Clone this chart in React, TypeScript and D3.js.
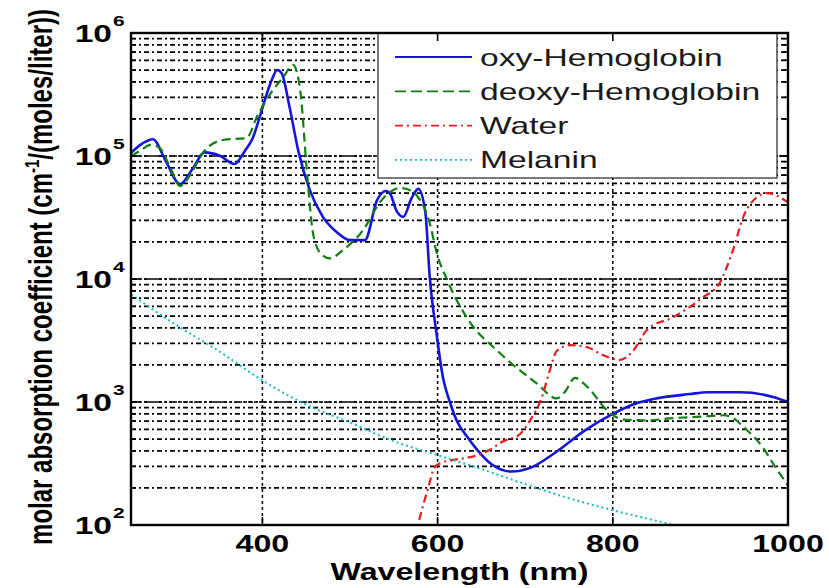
import React from 'react';
import { scaleLinear, scaleLog, line, curveMonotoneX } from 'd3';

// wavelengths (nm) and molar absorption values
const oxyWl = [250, 262, 275, 290, 306, 320, 334, 352, 368, 380, 389, 398, 405, 411, 417, 422, 431, 441, 454, 469, 485, 500, 517, 531, 541, 546, 553, 561, 570, 578, 586, 591, 599, 606, 614, 622, 634, 645, 662, 684, 705, 736, 767, 800, 828, 850, 888, 908, 945, 983, 1000];
const oxyVal = [1.06e5, 1.25e5, 1.37e5, 9.0e4, 5.9e4, 7.8e4, 1.07e5, 1.0e5, 8.6e4, 1.1e5, 1.4e5, 2.2e5, 3.2e5, 4.2e5, 5.0e5, 4.7e5, 2.5e5, 1.1e5, 5.3e4, 3.2e4, 2.4e4, 2.07e4, 2.07e4, 4.4e4, 5.2e4, 4.9e4, 3.6e4, 3.2e4, 4.5e4, 5.4e4, 3.5e4, 1.05e4, 3.5e3, 1.6e3, 1.0e3, 700, 520, 410, 310, 272, 290, 396, 580, 800, 980, 1070, 1160, 1200, 1200, 1100, 1000];

const deoxyWl = [250, 262, 272, 283, 295, 306, 320, 332, 355, 382, 394, 409, 424, 435, 443, 451, 458, 467, 477, 492, 515, 534, 546, 557, 568, 576, 591, 599, 611, 633, 671, 713, 736, 745, 757, 765, 774, 793, 812, 840, 869, 900, 926, 940, 949, 971, 985, 1000];
const deoxyVal = [1.0e5, 1.12e5, 1.23e5, 1.16e5, 8.0e4, 5.7e4, 7.5e4, 1.06e5, 1.35e5, 1.4e5, 2.1e5, 3.2e5, 4.4e5, 5.5e5, 3.5e5, 7.2e4, 2.3e4, 1.6e4, 1.47e4, 1.72e4, 2.5e4, 4.2e4, 5.1e4, 5.5e4, 5.3e4, 4.8e4, 2.85e4, 1.63e4, 9.8e3, 4.9e3, 2.5e3, 1.42e3, 1.07e3, 1.2e3, 1.57e3, 1.45e3, 1.26e3, 860, 720, 710, 740, 760, 780, 720, 630, 430, 300, 210];

const waterWl = [579, 590, 596, 603, 620, 640, 660, 675, 693, 705, 719, 728, 736, 751, 770, 789, 808, 823, 839, 869, 903, 922, 937, 949, 964, 976, 1000];
const waterVal = [110, 210, 290, 318, 340, 360, 410, 480, 540, 700, 1090, 1800, 2600, 2900, 2800, 2400, 2200, 2600, 3850, 4900, 7100, 9300, 1.7e4, 3.2e4, 4.6e4, 5.0e4, 4.2e4];

const melaninWl = [250, 300, 350, 400, 450, 500, 550, 600, 650, 700, 750, 800, 850, 870];
const melaninVal = [7500, 4300, 2600, 1500, 950, 680, 480, 370, 285, 215, 165, 132, 108, 100];

const xTicks = [400, 600, 800, 1000];
const yExponents = [2, 3, 4, 5, 6];
const seriesNames = ['oxy-Hemoglobin', 'deoxy-Hemoglobin', 'Water', 'Melanin'];

const W = 829;
const H = 588;
const L = 131, R = 788, T = 33, B = 525;
const SX = 1.4; // the source picture is stretched sideways
const FONT = 'Liberation Sans, Arial, sans-serif';

const x = scaleLinear().domain([250, 1000]).range([L, R]);
const y = scaleLog().domain([100, 1e6]).range([B, T]);

const styles = [
  { color: '#1414dc', width: 2.6, dash: 'none' },
  { color: '#0f800f', width: 2.2, dash: '9,5' },
  { color: '#e41e1e', width: 2.2, dash: '8,4,2,4' },
  { color: '#1cbcbc', width: 2, dash: '2,3' },
];

const series = [
  { wl: oxyWl, val: oxyVal },
  { wl: deoxyWl, val: deoxyVal },
  { wl: waterWl, val: waterVal },
  { wl: melaninWl, val: melaninVal },
];

const minorVals: number[] = [];
for (let e = 2; e < 6; e++) {
  for (let k = 2; k <= 9; k++) minorVals.push(k * Math.pow(10, e));
}
const decadeVals = [1e3, 1e4, 1e5];

const App = () => {
  const path = (wl: number[], val: number[]) =>
    line<number>()
      .x((d, i) => x(wl[i]))
      .y((d, i) => y(val[i]))
      .curve(curveMonotoneX)(wl) || '';

  const st = (px: number, py: number) => `translate(${px},${py}) scale(${SX},1)`;

  return (
    <svg width={W} height={H} style={{ display: 'block', position: 'absolute', left: 0, top: 0, background: '#fff' }} fontFamily={FONT}>
      <defs>
        <clipPath id="plot">
          <rect x={L} y={T} width={R - L} height={B - T} />
        </clipPath>
      </defs>
      <rect width={W} height={H} fill="#fff" />

      {/* grid */}
      <g stroke="#000" strokeWidth={1.7} fill="none">
        {minorVals.map(v => (
          <line key={'m' + v} x1={L} x2={R} y1={y(v)} y2={y(v)} strokeDasharray="5,3,2,3" />
        ))}
        {decadeVals.map(v => (
          <g key={'d' + v}>
            <line x1={L} x2={R} y1={y(v)} y2={y(v)} strokeDasharray="5,3,2,3" />
            <line x1={L} x2={R} y1={y(v)} y2={y(v)} strokeDasharray="3,2" strokeDashoffset={2} />
          </g>
        ))}
        {xTicks.slice(0, 3).map(t => (
          <line key={'v' + t} x1={x(t)} x2={x(t)} y1={T} y2={B} strokeDasharray="3,3" strokeWidth={1.5} />
        ))}
      </g>

      {/* curves */}
      <g clipPath="url(#plot)" fill="none">
        {series.map((s, i) => (
          <path key={i} d={path(s.wl, s.val)} stroke={styles[i].color} strokeWidth={styles[i].width}
            strokeDasharray={styles[i].dash} strokeLinejoin="round" />
        ))}
      </g>

      {/* legend */}
      <rect x={378} y={T} width={399} height={145} fill="#fff" stroke="#222" strokeWidth={1.2} />
      {seriesNames.map((n, i) => {
        const ly = 57 + i * 34.3;
        return (
          <g key={n}>
            <line x1={395} x2={472} y1={ly} y2={ly} stroke={styles[i].color} strokeWidth={styles[i].width - 0.4}
              strokeDasharray={i === 1 ? '11,5' : styles[i].dash} />
            <text transform={st(480, ly + 8.5)} fontSize={24} fill="#1a1a1a">{n}</text>
          </g>
        );
      })}

      {/* frame and ticks */}
      <g stroke="#000" fill="none">
        <rect x={L} y={T} width={R - L} height={B - T} strokeWidth={2.4} />
        {minorVals.map(v => (
          <g key={'t' + v} strokeWidth={1.4}>
            <line x1={L} x2={L + 5} y1={y(v)} y2={y(v)} />
            <line x1={R - 5} x2={R} y1={y(v)} y2={y(v)} />
          </g>
        ))}
        {decadeVals.map(v => (
          <g key={'T' + v} strokeWidth={1.6}>
            <line x1={L} x2={L + 8} y1={y(v)} y2={y(v)} />
            <line x1={R - 8} x2={R} y1={y(v)} y2={y(v)} />
          </g>
        ))}
        {xTicks.slice(0, 3).map(t => (
          <g key={'x' + t} strokeWidth={1.6}>
            <line x1={x(t)} x2={x(t)} y1={B} y2={B - 8} />
            <line x1={x(t)} x2={x(t)} y1={T} y2={T + 8} />
          </g>
        ))}
      </g>

      {/* y tick labels */}
      {yExponents.map(e => (
        <g key={'yl' + e} fontWeight="bold" fill="#000">
          <text transform={st(112, y(Math.pow(10, e)) + 8.5)} fontSize={24} textAnchor="end">10</text>
          <text transform={st(113, y(Math.pow(10, e)) - 7)} fontSize={15}>{e}</text>
        </g>
      ))}

      {/* x tick labels */}
      {xTicks.map(t => (
        <text key={'xl' + t} transform={st(x(t), 552)} fontSize={23} fontWeight="bold" textAnchor="middle">{t}</text>
      ))}

      <text transform={st((L + R) / 2, 580)} fontSize={23} fontWeight="bold" textAnchor="middle">Wavelength (nm)</text>

      <text transform={`translate(52,277) scale(${SX},1) rotate(-90)`} fontSize={24} fontWeight="bold" textAnchor="middle">
        molar absorption coefficient (cm<tspan dy={-9} fontSize={15}>-1</tspan><tspan dy={9}>/(moles/liter))</tspan>
      </text>
    </svg>
  );
};

export default App;
